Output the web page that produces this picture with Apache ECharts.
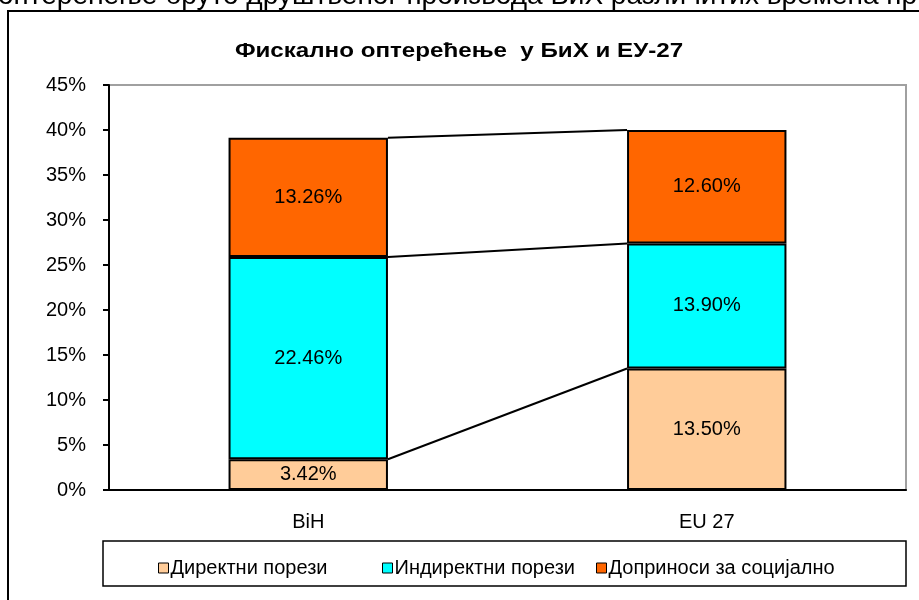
<!DOCTYPE html>
<html>
<head>
<meta charset="utf-8">
<script src="https://cdn.jsdelivr.net/npm/echarts@6/dist/echarts.min.js"></script>
<style>
html,body{margin:0;padding:0;background:#fff;}
#c{width:919px;height:600px;}
</style>
</head>
<body>
<div id="c"></div>
<script>
const categories = ['BiH', 'EU 27'];
const seriesNames = ['Директни порези', 'Индиректни порези', 'Доприноси за социјално'];
const directTaxes = [3.42, 13.50];
const indirectTaxes = [22.46, 13.90];
const socialContrib = [13.26, 12.60];
const yTicks = [0, 5, 10, 15, 20, 25, 30, 35, 40, 45];
const titleText = 'Фискално оптерећење  у БиХ и ЕУ-27';
const topText = 'оптерећење бруто друштвеног производа БиХ различитих времена пр';

const colors = ['#FFCC99', '#00FFFF', '#FF6600'];
const seriesValues = [directTaxes, indirectTaxes, socialContrib];

// cumulative levels for connector lines
const levels = [];
let cumA = 0, cumB = 0;
for (let s = 0; s < seriesValues.length; s++) {
  cumA += seriesValues[s][0];
  cumB += seriesValues[s][1];
  levels.push([0, cumA, 1, cumB]);
}

const chart = echarts.init(document.getElementById('c'), null, {renderer: 'canvas'});
const FONT = '"Liberation Sans", Arial, sans-serif';

const barSeries = seriesNames.map((name, i) => ({
  name: name,
  type: 'bar',
  stack: 'total',
  barCategoryGap: '60%',
  data: seriesValues[i],
  itemStyle: {color: colors[i], borderColor: '#000', borderWidth: 2},
  label: {
    show: true, position: 'inside', color: '#000',
    fontFamily: FONT, fontSize: 20,
    formatter: p => p.value.toFixed(2) + '%'
  },
  emphasis: {disabled: true}
}));

const connector = {
  type: 'custom',
  silent: true,
  z: 5,
  data: levels,
  renderItem: function (params, api) {
    const p1 = api.coord([api.value(0), api.value(1)]);
    const p2 = api.coord([api.value(2), api.value(3)]);
    const half = api.size([1, 0])[0] * 0.4 / 2;
    return {
      type: 'line',
      shape: {x1: p1[0] + half, y1: p1[1], x2: p2[0] - half, y2: p2[1]},
      style: {stroke: '#000', lineWidth: 2}
    };
  }
};

const legendLefts = [153, 377, 591];
const legends = seriesNames.map((n, i) => ({
  data: [n],
  left: legendLefts[i], top: 553,
  itemWidth: 10, itemHeight: 10,
  icon: 'rect',
  itemStyle: {borderColor: '#000', borderWidth: 1},
  textStyle: {fontFamily: FONT, fontSize: 20, color: '#000', padding: [0, 0, 0, -3]},
  selectedMode: false
}));

chart.setOption({
  backgroundColor: '#fff',
  animation: false,
  grid: {
    left: 109, top: 85, right: 13, bottom: 110,
    show: true, borderColor: '#a0a0a0', borderWidth: 2, backgroundColor: '#fff'
  },
  legend: legends,
  xAxis: {
    type: 'category',
    data: categories,
    axisLine: {lineStyle: {color: '#000', width: 2}},
    axisTick: {show: false},
    axisLabel: {fontFamily: FONT, fontSize: 20, color: '#000', margin: 22}
  },
  yAxis: {
    type: 'value',
    min: yTicks[0], max: yTicks[yTicks.length - 1], interval: 5,
    axisLine: {show: true, lineStyle: {color: '#000', width: 2}},
    axisTick: {show: true, length: 6, lineStyle: {color: '#000', width: 2}},
    splitLine: {show: false},
    axisLabel: {fontFamily: FONT, fontSize: 20, color: '#000', margin: 23, formatter: '{value}%'}
  },
  graphic: [
    {type: 'text', x: -2, y: -4, style: {text: topText, font: '28px ' + FONT, fill: '#000', verticalAlign: 'middle'}, z: 10},
    {type: 'text', x: 459, y: 51, scaleX: 1.15, originX: 0, originY: 0, style: {text: titleText, font: 'bold 21px ' + FONT, fill: '#000', align: 'center', verticalAlign: 'middle'}, z: 10},
    {type: 'rect', shape: {x: 8, y: 11, width: 950, height: 650}, style: {fill: null, stroke: '#000', lineWidth: 2}, z: -1},
    {type: 'rect', shape: {x: 103, y: 541, width: 803, height: 45}, style: {fill: null, stroke: '#000', lineWidth: 1.5}, z: 10}
  ],
  series: barSeries.concat([connector])
});
</script>
</body>
</html>
